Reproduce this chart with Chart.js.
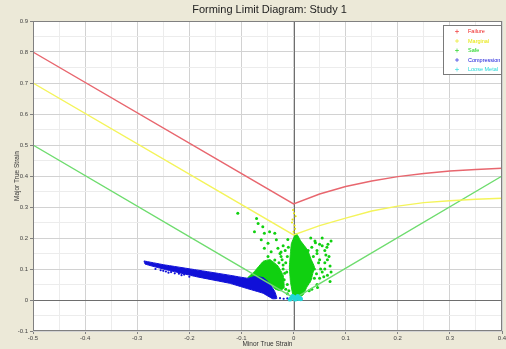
<!DOCTYPE html>
<html>
<head>
<meta charset="utf-8">
<script src="https://cdn.jsdelivr.net/npm/chart.js@4.4.1/dist/chart.umd.min.js"></script>
<style>
  html, body { margin: 0; padding: 0; background: #ECE9D8; }
  #wrap { width: 506px; height: 349px; }
</style>
</head>
<body>
<div id="wrap"><canvas id="fld"></canvas></div>
<script>
// Curvas límite (deformación menor -> deformación mayor)
const failureX  = [-0.5, 0, 0.05, 0.1, 0.15, 0.2, 0.25, 0.3, 0.35, 0.4];
const failureY  = [0.8, 0.31, 0.342, 0.366, 0.384, 0.398, 0.408, 0.416, 0.421, 0.425];
const marginalX = [-0.5, 0, 0.05, 0.1, 0.15, 0.2, 0.25, 0.3, 0.35, 0.4];
const marginalY = [0.7, 0.21, 0.24, 0.264, 0.287, 0.303, 0.314, 0.32, 0.325, 0.328];
const safeX     = [-0.5, 0.002, 0.4];
const safeY     = [0.5, 0.005, 0.4];

// Nubes densas de puntos medidos (contorno)
const compBandX = [-0.287, -0.25, -0.186, -0.123, -0.0875, -0.075, -0.058, -0.046, -0.036, -0.032,
                   -0.04, -0.059, -0.091, -0.123, -0.186, -0.25, -0.285];
const compBandY = [0.126, 0.114, 0.097, 0.08, 0.07, 0.076, 0.072, 0.054, 0.027, 0.005,
                   0.004, 0.022, 0.038, 0.054, 0.075, 0.1, 0.116];
const safeWedgeX = [-0.088, -0.075, -0.058, -0.045, -0.03, -0.02, -0.018, -0.025, -0.035, -0.045, -0.06];
const safeWedgeY = [0.072, 0.092, 0.125, 0.13, 0.11, 0.08, 0.04, 0.03, 0.035, 0.055, 0.068];
const safeCoreX = [-0.001, -0.006, -0.008, -0.006, -0.004, 0.005, 0.014, 0.027, 0.034, 0.04, 0.036,
                   0.034, 0.025, 0.018, 0.008];
const safeCoreY = [0.011, 0.06, 0.107, 0.15, 0.183, 0.215, 0.19, 0.161, 0.13, 0.107, 0.08,
                   0.065, 0.04, 0.016, 0.008];

// Puntos sueltos
const safePtsX = [-0.107, -0.071, -0.068, -0.059, -0.075, -0.056, -0.046, -0.036, -0.062, -0.049,
                  -0.033, -0.056, -0.043, -0.03, -0.049, -0.036, -0.024, -0.04, -0.03, -0.02, -0.017,
                  -0.012, -0.015, -0.02, -0.013, -0.018, -0.012, -0.015, -0.022, -0.026, -0.016,
                  -0.01, -0.02, -0.012, -0.009, -0.024, -0.028, -0.011,
                  0.035, 0.045, 0.05, 0.06, 0.04, 0.055, 0.065, 0.03, 0.045, 0.07, 0.038, 0.028,
                  0.05, 0.06, 0.072, 0.064, 0.042, 0.033, 0.055, 0.068,
                  0.045, 0.05, 0.055, 0.06, 0.065, 0.07, 0.072, 0.048, 0.052, 0.058, 0.062, 0.044,
                  0.04, 0.046, 0.035, 0.03, 0.066, 0.041];
const safePtsY = [0.28, 0.263, 0.247, 0.236, 0.22, 0.215, 0.22, 0.215, 0.194, 0.183,
                  0.194, 0.167, 0.156, 0.167, 0.14, 0.129, 0.14, 0.107, 0.091, 0.113, 0.086,
                  0.14, 0.12, 0.1, 0.09, 0.065, 0.05, 0.035, 0.13, 0.15, 0.16,
                  0.17, 0.175, 0.02, 0.03, 0.155, 0.12, 0.195,
                  0.17, 0.15, 0.13, 0.12, 0.1, 0.09, 0.08, 0.06, 0.05, 0.06, 0.14, 0.16,
                  0.07, 0.1, 0.19, 0.17, 0.185, 0.2, 0.175, 0.14,
                  0.16, 0.18, 0.2, 0.16, 0.13, 0.11, 0.09, 0.12, 0.1, 0.075, 0.145, 0.085,
                  0.07, 0.04, 0.035, 0.03, 0.18, 0.19];
const compPtsX = [-0.265, -0.255, -0.245, -0.235, -0.228, -0.22, -0.21, -0.24, -0.25, -0.215, -0.2,
                  -0.026, -0.019, -0.012];
const compPtsY = [0.1, 0.096, 0.092, 0.09, 0.086, 0.085, 0.082, 0.088, 0.094, 0.08, 0.075,
                  0.006, 0.004, 0.005];
const margPtsX = [0.0, 0.002, -0.002, 0.001, 0.003, -0.003, 0.004, -0.001];
const margPtsY = [0.22, 0.24, 0.26, 0.28, 0.23, 0.25, 0.27, 0.29];
const loosePtsX = [-0.005, 0, 0.005, 0.01, 0.003, -0.002, 0.008, 0.012, -0.007, 0.014];
const loosePtsY = [0.005, 0.01, 0.008, 0.004, 0.002, 0.012, 0.012, 0.007, 0.002, 0.003];

const xTicks = [-0.5, -0.4, -0.3, -0.2, -0.1, 0, 0.1, 0.2, 0.3, 0.4];
const yTicks = [-0.1, 0, 0.1, 0.2, 0.3, 0.4, 0.5, 0.6, 0.7, 0.8, 0.9];

const colores = {
  failure: '#EE2222', marginal: '#E6E600', safe: '#10D010',
  compression: '#1010D8', loose: '#20D8D8'
};

const zip = (xs, ys) => xs.map((x, i) => ({ x: x, y: ys[i] }));
const cerrar = (xs, ys) => { const p = zip(xs, ys); p.push(p[0]); return p; };

const curva = (data, color) => ({
  data: data, showLine: true, borderColor: color, borderWidth: 1.4,
  pointRadius: 0, fill: false, tension: 0, order: 1, leyenda: false
});
const nube = (data, color, order) => ({
  data: data, showLine: true, borderColor: color, backgroundColor: color,
  borderWidth: 1, pointRadius: 0, fill: 'shape', tension: 0.1, order: order, leyenda: false
});
const puntos = (label, data, color, order, r) => ({
  label: label, data: data, showLine: false, backgroundColor: color, borderColor: color,
  borderWidth: 0, pointRadius: r, order: order, leyenda: true
});

const esMayor = v => Math.abs(Math.round(v * 100)) % 10 === 0;
const etiqueta = v => {
  const r = Math.round(v * 100);
  if (r % 10 !== 0) return '';
  return r === 0 ? '0' : (r / 100).toFixed(1);
};
const colorGrid = ctx => {
  const v = ctx.tick ? ctx.tick.value : 0;
  return esMayor(v) ? '#D2D2D2' : '#ECECEC';
};

// Fondo beige, área blanca, ejes en cero, título y leyenda propios
const decorado = {
  id: 'decorado',
  beforeDraw(chart) {
    const { ctx, chartArea: a } = chart;
    ctx.save();
    ctx.fillStyle = '#ECE9D8';
    ctx.fillRect(0, 0, chart.width, chart.height);
    ctx.fillStyle = '#FFFFFF';
    ctx.fillRect(a.left, a.top, a.right - a.left, a.bottom - a.top);
    ctx.restore();
  },
  beforeDatasetsDraw(chart) {
    const { ctx, chartArea: a, scales } = chart;
    const x0 = Math.round(scales.x.getPixelForValue(0)) + 0.5;
    const y0 = Math.round(scales.y.getPixelForValue(0)) + 0.5;
    ctx.save();
    ctx.strokeStyle = '#6E6E6E';
    ctx.lineWidth = 1;
    ctx.beginPath();
    ctx.moveTo(x0, a.top); ctx.lineTo(x0, a.bottom);
    ctx.moveTo(a.left, y0); ctx.lineTo(a.right, y0);
    ctx.stroke();
    ctx.restore();
  },
  afterDraw(chart) {
    const { ctx, chartArea: a } = chart;
    ctx.save();
    ctx.strokeStyle = '#808080';
    ctx.lineWidth = 1;
    ctx.strokeRect(a.left + 0.5, a.top + 0.5, a.right - a.left - 1, a.bottom - a.top - 1);

    ctx.fillStyle = '#222';
    ctx.font = '11px "Liberation Sans", Arial, sans-serif';
    ctx.textAlign = 'center';
    ctx.textBaseline = 'middle';
    ctx.fillText('Forming Limit Diagram: Study 1', (a.left + a.right) / 2 + 2, 10);

    const bx = a.right - 59, by = a.top + 4, bw = 58, bh = 49;
    ctx.fillStyle = '#FFFFFF';
    ctx.fillRect(bx, by, bw, bh);
    ctx.strokeStyle = '#7A7A7A';
    ctx.strokeRect(bx + 0.5, by + 0.5, bw, bh);
    const items = chart.data.datasets.filter(d => d.leyenda);
    ctx.font = '5.5px "Liberation Sans", Arial, sans-serif';
    ctx.textAlign = 'left';
    items.forEach((d, i) => {
      const y = by + 6.5 + i * 9.5;
      ctx.strokeStyle = d.borderColor;
      ctx.globalAlpha = 0.6;
      ctx.beginPath();
      ctx.moveTo(bx + 12, y); ctx.lineTo(bx + 16, y);
      ctx.moveTo(bx + 14, y - 2); ctx.lineTo(bx + 14, y + 2);
      ctx.stroke();
      ctx.globalAlpha = 1;
      ctx.fillStyle = d.borderColor;
      ctx.fillText(d.label, bx + 25, y);
    });
    ctx.restore();
  }
};

const datasets = [
  puntos('Failure', [], colores.failure, 9, 1.5),
  puntos('Marginal', zip(margPtsX, margPtsY), colores.marginal, 3, 1),
  puntos('Safe', zip(safePtsX, safePtsY), colores.safe, 5, 1.5),
  puntos('Compression', zip(compPtsX, compPtsY), colores.compression, 4, 1.1),
  puntos('Loose Metal', zip(loosePtsX, loosePtsY), colores.loose, 0, 2.2),
  curva(zip(failureX, failureY), '#E8666E'),
  curva(zip(marginalX, marginalY), '#F4F45A'),
  curva(zip(safeX, safeY), '#6EDC6E'),
  nube(cerrar(safeWedgeX, safeWedgeY), colores.safe, 6),
  nube(cerrar(safeCoreX, safeCoreY), colores.safe, 6),
  nube(cerrar(compBandX, compBandY), colores.compression, 2)
];

new Chart(document.getElementById('fld'), {
  type: 'scatter',
  data: { datasets: datasets },
  options: {
    responsive: true,
    maintainAspectRatio: false,
    animation: false,
    layout: { padding: { top: 21, right: 4, left: 0, bottom: 0 } },
    plugins: { legend: { display: false }, tooltip: { enabled: false }, title: { display: false } },
    scales: {
      x: {
        type: 'linear', min: xTicks[0], max: xTicks[xTicks.length - 1],
        afterFit: s => { s.height = 18; s.paddingLeft = 0; s.paddingRight = 0; },
        ticks: { stepSize: 0.05, autoSkip: false, maxRotation: 0, padding: 1,
                 color: '#444', font: { size: 6, family: '"Liberation Sans", Arial' }, callback: etiqueta },
        grid: { color: colorGrid, tickLength: 3,
                tickColor: ctx => esMayor(ctx.tick.value) ? '#808080' : 'rgba(0,0,0,0)' },
        border: { display: false },
        title: { display: true, text: 'Minor True Strain', color: '#333', padding: { top: 0, bottom: 1 },
                 font: { size: 6.5, family: '"Liberation Sans", Arial' } }
      },
      y: {
        type: 'linear', min: yTicks[0], max: yTicks[yTicks.length - 1],
        afterFit: s => { s.width = 33; },
        ticks: { stepSize: 0.05, autoSkip: false, padding: 2,
                 color: '#444', font: { size: 6, family: '"Liberation Sans", Arial' }, callback: etiqueta },
        grid: { color: colorGrid, tickLength: 3,
                tickColor: ctx => esMayor(ctx.tick.value) ? '#808080' : 'rgba(0,0,0,0)' },
        border: { display: false },
        title: { display: true, text: 'Major True Strain', color: '#333', padding: { top: 13, bottom: 0 },
                 font: { size: 6.5, family: '"Liberation Sans", Arial' } }
      }
    }
  },
  plugins: [decorado]
});
</script>
</body>
</html>
